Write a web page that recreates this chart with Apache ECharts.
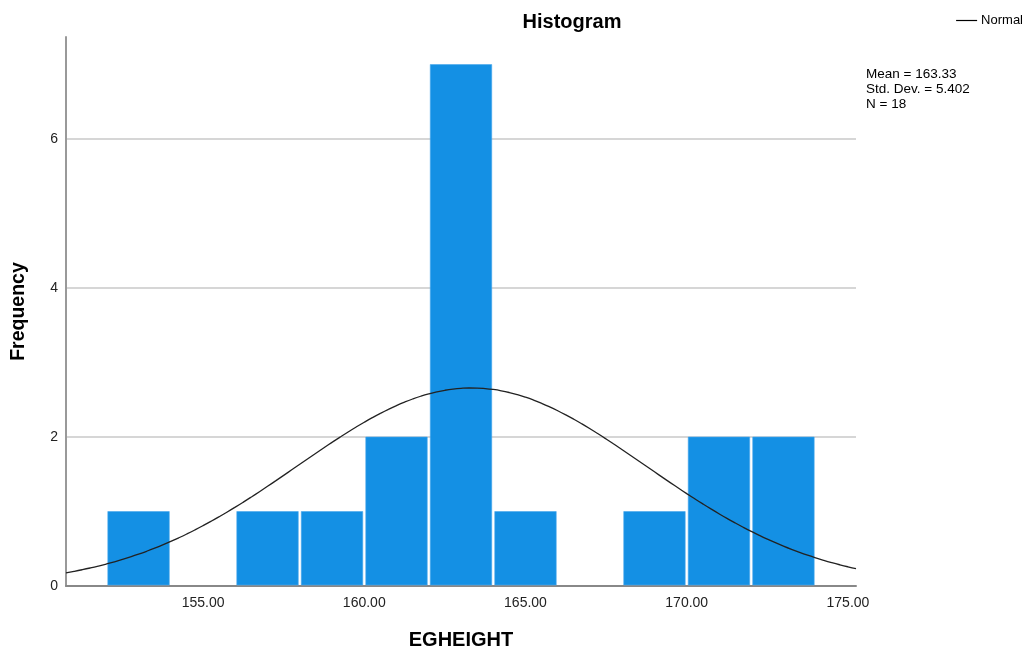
<!DOCTYPE html>
<html>
<head>
<meta charset="utf-8">
<script src="https://cdn.jsdelivr.net/npm/echarts@6/dist/echarts.min.js"></script>
<style>html,body{margin:0;padding:0;background:#fff;}#c{width:1034px;height:657px;}</style>
</head>
<body>
<div id="c"></div>
<script>
// Histogram data (bin start/end and frequency)
const binStarts = [152, 154, 156, 158, 160, 162, 164, 166, 168, 170, 172];
const binEnds   = [154, 156, 158, 160, 162, 164, 166, 168, 170, 172, 174];
const counts    = [1, 0, 1, 1, 2, 7, 1, 0, 1, 2, 2];
const xTicks = [155, 160, 165, 170, 175];
const yTicks = [0, 2, 4, 6];
const gridValues = [2, 4, 6];
// Summary statistics shown on the chart
const mean = 163.33;
const sd = 5.402;
const n = 18;
const binWidth = 2;
const xMin = 150.75, xMax = 175.25;

// fitted normal curve (SPSS overlay) from the stated mean / sd / N
const curve = [];
for (let i = 0; i <= 98; i++) {
  const x = xMin + (xMax - xMin) * i / 98;
  const z = (x - mean) / sd;
  curve.push([x, n * binWidth * Math.exp(-0.5 * z * z) / (sd * Math.sqrt(2 * Math.PI))]);
}

const barData = binStarts.map((s, i) => [s, binEnds[i], counts[i]]).filter(d => d[2] > 0);

const FONT = '"Liberation Sans", Arial, sans-serif';
const chart = echarts.init(document.getElementById('c'));
chart.setOption({
  animation: false,
  title: {
    text: 'Histogram', left: 567, top: 7, textAlign: 'center',
    textStyle: { fontFamily: FONT, fontSize: 20, fontWeight: 'bold', color: '#000' }
  },
  legend: {
    data: [{ name: 'Normal', icon: 'rect', itemStyle: { color: '#000' } }],
    right: 6, top: 9, itemWidth: 21, itemHeight: 1.2, itemGap: 6,
    textStyle: { fontFamily: FONT, fontSize: 13, color: '#000', padding: [0, 0, 0, -1] }
  },
  graphic: [{
    type: 'text', left: 866, top: 67,
    style: { text: 'Mean = ' + mean.toFixed(2) + '\nStd. Dev. = ' + sd.toFixed(3) + '\nN = ' + n,
      font: '13.5px ' + FONT, fill: '#000', lineHeight: 15 }
  }],
  grid: { left: 66, right: 178, top: 37, bottom: 71 },
  xAxis: {
    type: 'value', min: xMin, max: xMax,
    name: 'EGHEIGHT', nameLocation: 'middle', nameGap: 44,
    nameTextStyle: { fontFamily: FONT, fontSize: 20, fontWeight: 'bold', color: '#000' },
    axisLine: { show: true, lineStyle: { color: '#888', width: 2 } },
    axisTick: { show: false },
    splitLine: { show: false },
    axisLabel: { customValues: xTicks, formatter: v => v.toFixed(2), margin: 10,
      fontFamily: FONT, fontSize: 14, color: '#222' }
  },
  yAxis: {
    type: 'value', min: 0, max: 7.37,
    name: 'Frequency', nameLocation: 'middle', nameGap: 37, nameRotate: 90,
    nameTextStyle: { fontFamily: FONT, fontSize: 19.5, fontWeight: 'bold', color: '#000' },
    axisLine: { show: true, lineStyle: { color: '#999', width: 2 } },
    axisTick: { show: false },
    splitLine: { show: false },
    axisLabel: { customValues: yTicks, margin: 8, fontFamily: FONT, fontSize: 14, color: '#222' }
  },
  series: [
    {
      type: 'line', name: 'gridlines', data: [], z: 0, silent: true,
      markLine: {
        z: 0, silent: true, symbol: 'none', label: { show: false }, animation: false,
        lineStyle: { color: '#c8c8c8', width: 1.5, type: 'solid' },
        data: gridValues.map(v => ({ yAxis: v }))
      }
    },
    {
      type: 'custom', name: 'bars', silent: true, z: 2,
      data: barData,
      encode: { x: [0, 1], y: 2 },
      renderItem: function (params, api) {
        const p0 = api.coord([api.value(0), api.value(2)]);
        const p1 = api.coord([api.value(1), 0]);
        return {
          type: 'rect',
          shape: { x: p0[0] + 1.5, y: p0[1], width: p1[0] - p0[0] - 3, height: p1[1] - p0[1] - 1 },
          style: { fill: '#1490e4', stroke: '#4aa8ec', lineWidth: 0.6 }
        };
      }
    },
    {
      type: 'line', name: 'Normal', data: curve, showSymbol: false, smooth: true, z: 3,
      lineStyle: { color: '#222', width: 1.3 }, itemStyle: { color: '#222' }
    }
  ]
});
</script>
</body>
</html>
